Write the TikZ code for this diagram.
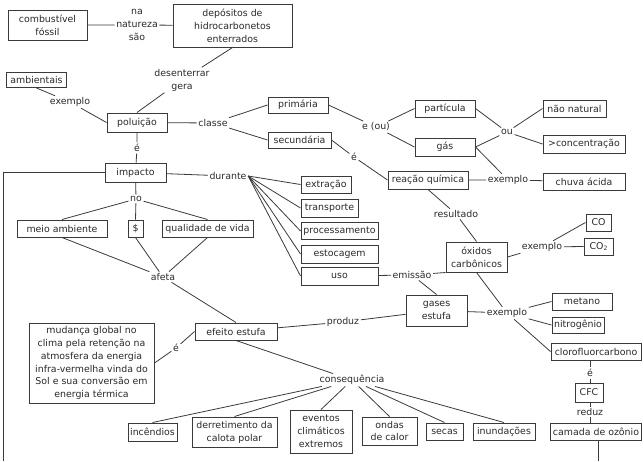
\documentclass[tikz,border=0pt]{standalone}
\usepackage{fontspec}
\setmainfont{DejaVu Sans}
\definecolor{ln}{HTML}{3A3A3A}
\definecolor{tx}{HTML}{2A2A2A}
\begin{document}
\begin{tikzpicture}[x=1pt,y=-1pt,
  every node/.style={font=\fontsize{9.4}{12.9}\selectfont, text=tx, align=center},
  box/.style={draw=ln, line width=1pt, fill=white, inner sep=1pt, minimum width=#1},
  box/.default=10pt,
  lbl/.style={inner sep=1.5pt},
  conn/.style={draw=ln, line width=0.8pt}]
\useasboundingbox (0,0) rectangle (644,461);
% boxes
\node[box=79pt, minimum height=30pt] (fossil) at (47.5,25) {combustível\\fóssil};
\node[box=119pt, minimum height=43pt] (dep) at (232.5,25.5) {depósitos de\\hidrocarbonetos\\enterrados};
\node[box=60pt, minimum height=15pt] (amb) at (36.5,80) {ambientais};
\node[box=60pt, minimum height=19pt] (pol) at (137,122.5) {poluição};
\node[box=60pt, minimum height=16pt] (prim) at (298,105) {primária};
\node[box=63pt, minimum height=16pt] (sec) at (299.5,140) {secundária};
\node[box=60pt, minimum height=17pt] (part) at (445,108.5) {partícula};
\node[box=60pt, minimum height=18pt] (gas) at (445,147) {gás};
\node[box=63pt, minimum height=17pt] (nnat) at (574.5,108.5) {não natural};
\node[box=82pt, minimum height=18pt] (conc) at (584,144) {>concentração};
\node[box=80pt, minimum height=18pt] (reac) at (428,180) {reação química};
\node[box=82pt, minimum height=17pt] (chuva) at (584,181.5) {chuva ácida};
\node[box=61pt, minimum height=19pt] (imp) at (135.5,172.5) {impacto};
\node[box=90pt, minimum height=17pt] (meio) at (62,228.5) {meio ambiente};
\node[box=15pt, minimum height=17pt] (dol) at (135.5,228.5) {\$};
\node[box=91pt, minimum height=17pt] (qual) at (207.5,228.5) {qualidade de vida};
\node[box=50pt, minimum height=17pt] (extr) at (326,184.5) {extração};
\node[box=57pt, minimum height=18pt] (transp) at (329.5,208) {transporte};
\node[box=77pt, minimum height=17pt] (proc) at (339.5,231) {processamento};
\node[box=77pt, minimum height=18pt] (estoc) at (339.5,254) {estocagem};
\node[box=77pt, minimum height=18pt] (uso) at (339.5,276) {uso};
\node[box=61pt, minimum height=30pt] (oxid) at (476.5,257) {óxidos\\carbônicos};
\node[box=25pt, minimum height=17pt] (co) at (598.5,222.5) {CO};
\node[box=29pt, minimum height=17pt] (co2) at (598.5,246.5) {CO\raisebox{-0.35ex}{\fontsize{6}{7}\selectfont 2}};
\node[box=61pt, minimum height=31pt] (gases) at (436.5,310.5) {gases\\estufa};
\node[box=60pt, minimum height=17pt] (met) at (582,301.5) {metano};
\node[box=52pt, minimum height=16pt] (nit) at (578,325) {nitrogênio};
\node[box=90pt, minimum height=17pt] (cloro) at (596,351.5) {clorofluorcarbono};
\node[box=28pt, minimum height=19pt] (cfc) at (589,392.5) {CFC};
\node[box=91pt, minimum height=17pt] (cam) at (596,431.5) {camada de ozônio};
\node[box=82pt, minimum height=17pt] (efe) at (236,331.5) {efeito estufa};
\node[box=125pt, minimum height=80pt] (mud) at (91.5,363) {mudança global no\\clima pela retenção na\\atmosfera da energia\\infra-vermelha vinda do\\Sol e sua conversão em\\energia térmica};
\node[box=49pt, minimum height=18pt] (inc) at (152.5,432) {incêndios};
\node[box=85pt, minimum height=30pt] (der) at (234.5,432) {derretimento da\\calota polar};
\node[box=62pt, minimum height=43pt] (evt) at (321,431.5) {eventos\\climáticos\\extremos};
\node[box=55pt, minimum height=28pt] (ond) at (389.5,431) {ondas\\de calor};
\node[box=37pt, minimum height=17pt] (secas) at (444.5,431.5) {secas};
\node[box=62pt, minimum height=17pt] (inund) at (504,431.5) {inundações};
% labels
\node[lbl] (Lnat) at (137,25) {na\\natureza\\são};
\node[lbl] (Ldes) at (182,80) {desenterrar\\gera};
\node[lbl] (Lex1) at (70,102) {exemplo};
\node[lbl] (Lcl) at (213,123) {classe};
\node[lbl] (Leou) at (376,127) {e (ou)};
\node[lbl] (Lou) at (507,132) {ou};
\node[lbl] (Le2) at (354,157) {é};
\node[lbl] (Lex2) at (508,180) {exemplo};
\node[lbl] (Lres) at (456,214) {resultado};
\node[lbl] (Le1) at (137,148) {é};
\node[lbl] (Ldur) at (228,176) {durante};
\node[lbl] (Lno) at (136,199) {no};
\node[lbl] (Laf) at (163,277) {afeta};
\node[lbl] (Lex3) at (542,247) {exemplo};
\node[lbl] (Lem) at (412,275) {emissão};
\node[lbl] (Lex4) at (507,313) {exemplo};
\node[lbl] (Le5) at (590,373) {é};
\node[lbl] (Lred) at (590,412) {reduz};
\node[lbl] (Lprod) at (343,322) {produz};
\node[lbl] (Le4) at (176,348) {é};
\node[lbl] (Lcons) at (352,380) {consequência};
\coordinate (c1) at (3,172.5);
\coordinate (c2) at (3,461);
\coordinate (c3) at (598,461);
% connectors
\path[conn] (fossil) -- (Lnat) -- (dep);
\path[conn] (dep.south) -- (Ldes) -- (pol.north);
\path[conn] (amb.south) -- (Lex1) -- (pol.west);
\path[conn] (pol) -- (Lcl);
\path[conn] (Lcl) -- (prim.west);
\path[conn] (Lcl) -- (sec.west);
\path[conn] (prim.east) -- (Leou);
\path[conn] (Leou) -- (part.west);
\path[conn] (Leou) -- (gas.west);
\path[conn] (part.east) -- (Lou);
\path[conn] (gas.east) -- (Lou);
\path[conn] (Lou) -- (nnat.west);
\path[conn] (Lou) -- (conc.west);
\path[conn] (sec.east) -- (Le2) -- (reac.west);
\path[conn] (gas.east) -- (Lex2);
\path[conn] (reac) -- (Lex2) -- (chuva);
\path[conn] (reac.south) -- (Lres) -- (oxid.north);
\path[conn] (pol) -- (Le1) -- (imp);
\path[conn] (imp) -- (Ldur);
\foreach \n in {extr,transp,proc,estoc,uso} \path[conn] (Ldur.east) -- (\n.west);
\path[conn] (imp) -- (Lno);
\foreach \n in {meio,dol,qual} {\path[conn] (Lno) -- (\n.north); \path[conn] (\n.south) -- (Laf);}
\path[conn] (Laf) -- (efe.north);
\path[conn] (imp.west) -- (c1) -- (c2);
\path[conn] (uso) -- (Lem);
\path[conn] (Lem) -- (oxid.south west);
\path[conn] (Lem) -- (gases.north);
\path[conn] (oxid.east) -- (Lex3);
\path[conn] (Lex3) -- (co.west);
\path[conn] (Lex3) -- (co2.west);
\path[conn] (oxid.south) -- (Lex4);
\path[conn] (gases) -- (Lex4);
\foreach \n in {met,nit,cloro} \path[conn] (Lex4) -- (\n.west);
\path[conn] (cloro.south -| Le5) -- (Le5) -- (cfc.north -| Le5);
\path[conn] (cfc.south -| Lred) -- (Lred) -- (cam.north -| Lred);
\path[conn] (cam.south -| c3) -- (c3);
\path[conn] (efe) -- (Lprod) -- (gases);
\path[conn] (efe.west) -- (Le4) -- (mud.east);
\path[conn] (efe.south) -- (Lcons);
\foreach \n in {inc,der,evt,ond,secas,inund} \path[conn] (Lcons) -- (\n.north);
\end{tikzpicture}
\end{document}
